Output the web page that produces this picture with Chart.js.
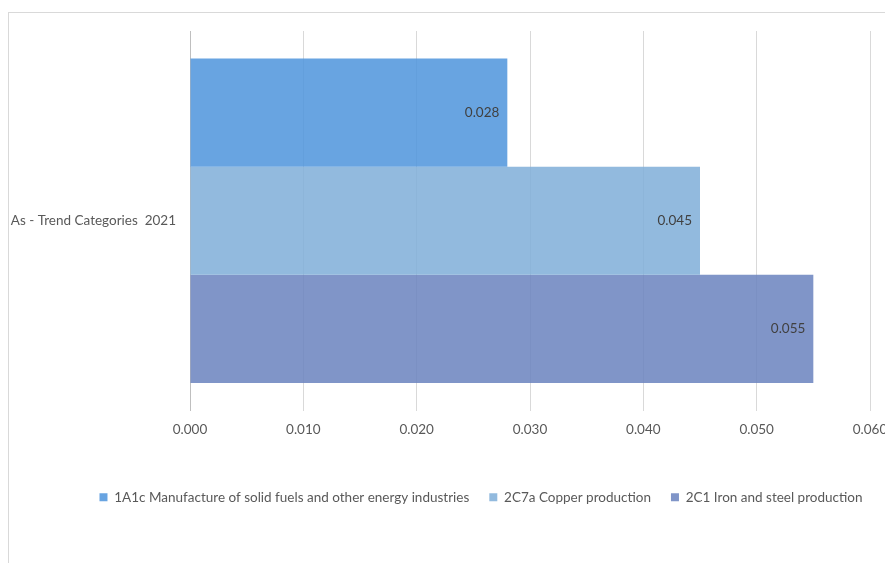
<!DOCTYPE html>
<html>
<head>
<meta charset="utf-8">
<script src="https://cdn.jsdelivr.net/npm/chart.js@4.4.1/dist/chart.umd.min.js"></script>
<style>
  html, body { margin: 0; padding: 0; background: #fff; }
  #wrap { width: 885px; height: 563px; position: relative; }
</style>
</head>
<body>
<div id="wrap"><canvas id="chart"></canvas></div>
<script>
const categories = ['As - Trend Categories  2021'];
const seriesNames = [
    '1A1c Manufacture of solid fuels and other energy industries',
    '2C7a Copper production',
    '2C1 Iron and steel production'
];
const manufactureValues = [0.028];
const copperValues = [0.045];
const ironSteelValues = [0.055];
const xTicks = [0, 0.01, 0.02, 0.03, 0.04, 0.05, 0.06];

const colors = ['rgba(77,148,220,0.85)', 'rgba(127,174,216,0.85)', 'rgba(106,131,190,0.85)'];
const fontFamily = 'Lato, "Liberation Sans", sans-serif';

// outer frame like the office chart area
const framePlugin = {
    id: 'frame',
    beforeDraw(chart) {
        const ctx = chart.ctx;
        ctx.save();
        ctx.fillStyle = '#fff';
        ctx.fillRect(0, 0, chart.width, chart.height);
        ctx.strokeStyle = '#d9d9d9';
        ctx.lineWidth = 1;
        ctx.strokeRect(8.5, 12.5, chart.width + 20, chart.height + 20);
        ctx.restore();
    }
};

// the original legend sits a bit right of the canvas centre
const legendShift = {
    id: 'legendShift',
    afterLayout(chart) {
        if (!chart.legend) return;
        chart.legend.left += 46;
        chart.legend.right += 46;
    }
};

// value labels at inside end of each bar
const valueLabels = {
    id: 'valueLabels',
    afterDatasetsDraw(chart) {
        const ctx = chart.ctx;
        ctx.save();
        ctx.font = '13.5px ' + fontFamily;
        ctx.fillStyle = '#404040';
        ctx.textAlign = 'right';
        ctx.textBaseline = 'middle';
        chart.data.datasets.forEach((ds, i) => {
            chart.getDatasetMeta(i).data.forEach((bar, j) => {
                ctx.fillText(ds.data[j].toFixed(3), bar.x - 8, bar.y);
            });
        });
        ctx.restore();
    }
};

new Chart(document.getElementById('chart'), {
    type: 'bar',
    data: {
        labels: categories,
        datasets: [
            { label: seriesNames[0], data: manufactureValues, backgroundColor: colors[0] },
            { label: seriesNames[1], data: copperValues, backgroundColor: colors[1] },
            { label: seriesNames[2], data: ironSteelValues, backgroundColor: colors[2] }
        ]
    },
    options: {
        indexAxis: 'y',
        responsive: true,
        maintainAspectRatio: false,
        animation: false,
        categoryPercentage: 0.855,
        barPercentage: 1,
        layout: { padding: { left: 0, right: 15, top: 31, bottom: 49 } },
        plugins: {
            legend: {
                position: 'bottom',
                labels: {
                    boxWidth: 8,
                    boxHeight: 8,
                    padding: 20,
                    color: '#595959',
                    font: { family: fontFamily, size: 13.5 }
                }
            },
            tooltip: { enabled: false }
        },
        scales: {
            x: {
                min: 0,
                max: 0.06,
                afterBuildTicks: scale => {
                    scale.ticks = xTicks.map(v => ({ value: v }));
                },
                afterFit: scale => {
                    scale.height = 60;
                    scale.paddingLeft = 0;
                    scale.paddingRight = 0;
                },
                grid: { color: '#d9d9d9', drawTicks: false },
                border: { display: false },
                ticks: {
                    padding: 11,
                    color: '#595959',
                    font: { family: fontFamily, size: 13.5 },
                    callback: v => Number(v).toFixed(3)
                }
            },
            y: {
                afterFit: scale => { scale.width = 190; },
                grid: { display: false, drawTicks: false },
                border: { color: '#bfbfbf', width: 1 },
                ticks: {
                    padding: 14,
                    color: '#595959',
                    font: { family: fontFamily, size: 13.5 }
                }
            }
        }
    },
    plugins: [framePlugin, legendShift, valueLabels]
});
</script>
</body>
</html>
